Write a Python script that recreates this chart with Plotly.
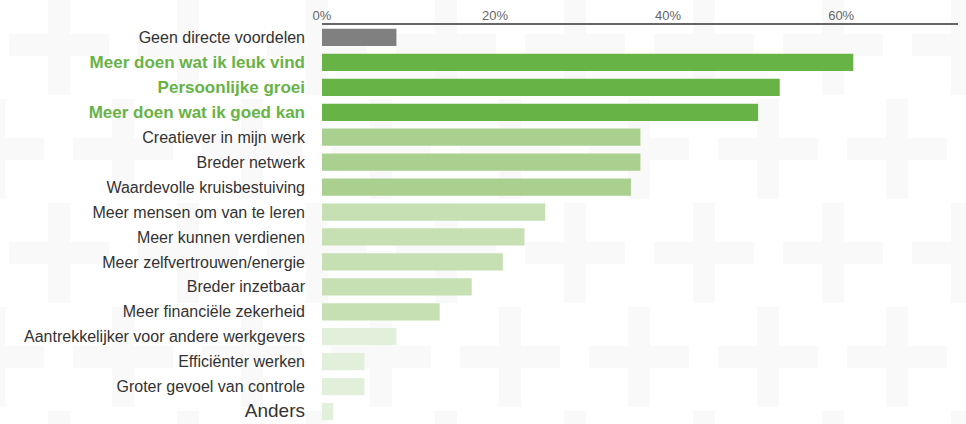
import plotly.graph_objects as go

categories = [
    "Geen directe voordelen",
    "Meer doen wat ik leuk vind",
    "Persoonlijke groei",
    "Meer doen wat ik goed kan",
    "Creatiever in mijn werk",
    "Breder netwerk",
    "Waardevolle kruisbestuiving",
    "Meer mensen om van te leren",
    "Meer kunnen verdienen",
    "Meer zelfvertrouwen/energie",
    "Breder inzetbaar",
    "Meer financiële zekerheid",
    "Aantrekkelijker voor andere werkgevers",
    "Efficiënter werken",
    "Groter gevoel van controle",
    "Anders",
]
values = [8.6, 61.4, 52.9, 50.4, 36.8, 36.8, 35.7, 25.8, 23.4, 20.9, 17.3, 13.6, 8.6, 4.9, 4.9, 1.3]
groups = ["none", "top", "top", "top", "mid", "mid", "mid", "low", "low", "low", "low", "low",
          "min", "min", "min", "min"]
highlighted = ["Meer doen wat ik leuk vind", "Persoonlijke groei", "Meer doen wat ik goed kan"]
tick_vals = [0, 20, 40, 60]
tick_text = ["0%", "20%", "40%", "60%"]

group_colors = {"none": "#808080", "top": "#67b346", "mid": "#a9d08e", "low": "#c6e0b4", "min": "#e2efda"}
bar_colors = [group_colors[g] for g in groups]

def label(c):
    if c in highlighted:
        return f'<span style="color:#67b346;font-size:17px"><b>{c}</b></span>'
    if c == "Anders":
        return f'<span style="font-size:19px">{c}</span>'
    return c

ticklabels = [label(c) for c in categories]

fig = go.Figure(go.Bar(
    x=values, y=categories, orientation="h",
    marker=dict(color=bar_colors, line=dict(width=0)),
    hoverinfo="x+y",
))

# faint decorative plus-sign background pattern (pixel layout -> paper coords)
W, H = 966, 424
L, R, T, B = 322, 8, 25, 0
pw, ph = W - L - R, H - T - B
def px(x):
    return (x - L) / pw
def py(y):
    return (H - B - y) / ph

shapes = []
arm, thick = 50, 11
rows = [(45, 59), (149, -6), (253, 59), (357, -6), (461, 59)]
for cy, x0 in rows:
    for k in range(9):
        cx = x0 + 129 * k
        shapes.append(dict(type="rect", xref="paper", yref="paper", layer="below",
                           x0=px(cx - arm), x1=px(cx + arm), y0=py(cy + thick), y1=py(cy - thick),
                           fillcolor="#f9f9f9", line=dict(width=0)))
        shapes.append(dict(type="rect", xref="paper", yref="paper", layer="below",
                           x0=px(cx - thick), x1=px(cx + thick), y0=py(cy + arm), y1=py(cy - arm),
                           fillcolor="#f9f9f9", line=dict(width=0)))

fig.update_layout(
    width=W, height=H,
    margin=dict(l=L, r=R, t=T, b=B, pad=0, autoexpand=False),
    paper_bgcolor="white",
    plot_bgcolor="rgba(0,0,0,0)",
    bargap=0.31,
    showlegend=False,
    shapes=shapes,
    font=dict(family="Liberation Sans, Arial, sans-serif", color="#333333", size=16),
    xaxis=dict(
        side="top", range=[0, 73.5], automargin=False,
        tickvals=tick_vals, ticktext=tick_text,
        tickfont=dict(size=13, color="#666666"),
        showgrid=False, zeroline=False,
        showline=True, linecolor="#666666", linewidth=1.5,
        ticks="", ticklabelstandoff=-2, fixedrange=True,
    ),
    yaxis=dict(
        autorange="reversed", automargin=False,
        tickvals=categories, ticktext=ticklabels,
        tickfont=dict(size=16, color="#333333"),
        showgrid=False, zeroline=False, showline=False,
        ticks="", ticklabelstandoff=16, fixedrange=True,
    ),
)

fig.write_html(
    "out.html",
    config={"displayModeBar": False},
    post_script="document.body.style.margin='0px';document.body.style.overflow='hidden';",
)
